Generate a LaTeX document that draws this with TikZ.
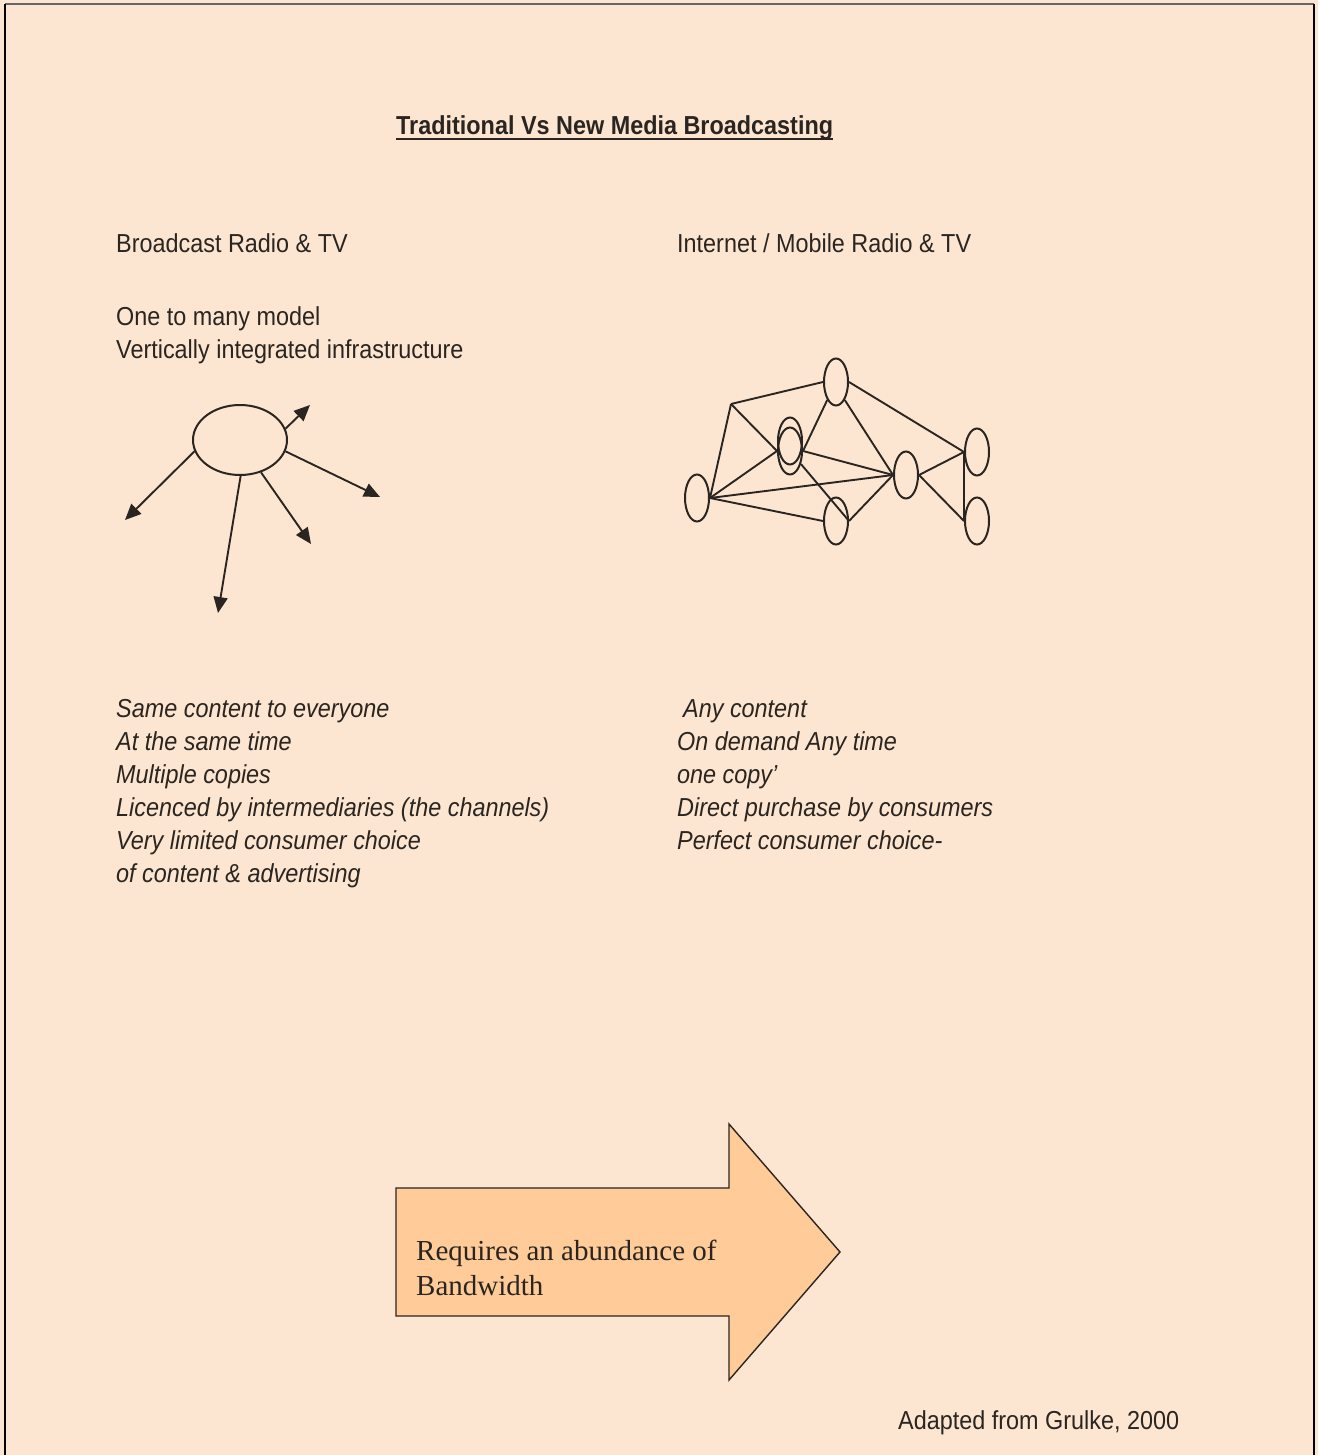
\documentclass[tikz,border=0pt]{standalone}
\usepackage{fontspec}
\setmainfont{Liberation Serif}
\newfontfamily\narrowsans[FakeStretch=0.9]{Liberation Sans}
\usetikzlibrary{arrows.meta,shapes.geometric}
\definecolor{paper}{HTML}{FDE6D1}
\definecolor{arrowfill}{HTML}{FFCB98}
\definecolor{ink}{HTML}{2A2520}

\begin{document}
\begin{tikzpicture}[
    x=1pt, y=-1pt,
    txt/.style={inner sep=0pt, anchor=base west, align=left, text=ink,
                font=\narrowsans\fontsize{26}{33}\selectfont},
    itxt/.style={txt, font=\narrowsans\itshape\fontsize{26}{33}\selectfont},
    hub/.style={draw=ink, line width=2pt, ellipse, inner sep=0pt,
                minimum width=94pt, minimum height=70pt},
    peer/.style={draw=ink, line width=2pt, ellipse, inner sep=0pt,
                 minimum width=24pt, minimum height=47pt},
    spoke/.style={draw=ink, line width=1.9pt, -{Triangle[length=16pt,width=14pt]}},
    link/.style={draw=ink, line width=1.9pt}
]
    \useasboundingbox (0,0) rectangle (1318,1455);
    \fill[paper] (0,0) rectangle (1318,1455);
    % page frame
    \draw[black!60, line width=2pt] (5,4) -- (1314,4);
    \draw[black, line width=2.5pt] (5,4) -- (5,1455);
    \draw[black, line width=2pt] (1314,4) -- (1314,1455);

    % title
    \node[txt, font=\narrowsans\bfseries\fontsize{26}{33}\selectfont] (title) at (396,135)
        {Traditional Vs New Media Broadcasting};
    \draw[ink, line width=1.8pt] ([yshift=-4pt]title.base west) -- ([yshift=-4pt]title.base east);

    % left column (multi-line nodes sit on their last line)
    \node[txt] (bcast) at (116,252) {Broadcast Radio \& TV};
    \node[txt] (onetomany) at (116,358) {One to many model\\Vertically integrated infrastructure};

    \node[hub] (tower) at (240,440) {};
    \coordinate (t1) at (310,405);
    \coordinate (t2) at (380,497);
    \coordinate (t3) at (311,544);
    \coordinate (t4) at (218,613);
    \coordinate (t5) at (125,520);
    \draw[spoke] (tower.14) -- (t1);
    \draw[spoke] (tower.-14) -- (t2);
    \draw[spoke] (tower.-57) -- (t3);
    \draw[spoke] (tower.-89) -- (t4);
    \draw[spoke] (tower.-166) -- (t5);

    \node[itxt] (oldlist) at (116,882) {Same content to everyone\\At the same time\\Multiple copies\\
        Licenced by intermediaries (the channels)\\Very limited consumer choice\\of content \& advertising};

    % right column
    \node[txt] (inet) at (677,252) {Internet / Mobile Radio \& TV};

    \node[peer] (pa) at (697,498) {};
    \node[peer] (pb1) at (790,441) {};
    \node[peer] (pb2) at (790,451) {};
    \node[peer] (pc) at (836,382) {};
    \node[peer] (pd) at (836,521) {};
    \node[peer] (pe) at (906,475) {};
    \node[peer] (pf) at (977,452) {};
    \node[peer] (pg) at (977,521) {};
    \coordinate (joint) at (731,404);

    \draw[link] (joint) -- (pc.west);
    \draw[link] (joint) -- (pa.east);
    \draw[link] (joint) -- (pb2.west);
    \draw[link] (pa.east) -- (pb2.west);
    \draw[link] (pa.east) -- (pe.west);
    \draw[link] (pa.east) -- (pd.west);
    \draw[link] (pb2.east) -- (pc.-116);
    \draw[link] (pb2.east) -- (pe.west);
    \draw[link] (pb2.-50) -- (pd.east);
    \draw[link] (pc.-64) -- (pe.west);
    \draw[link] (pc.east) -- (pf.west);
    \draw[link] (pd.east) -- (pe.west);
    \draw[link] (pe.east) -- (pf.west);
    \draw[link] (pe.east) -- (pg.west);
    \draw[link] (pf.west) -- (pg.west);

    \node[itxt] (newlist) at (677,849) {\hspace{6pt}Any content\\On demand Any time\\one copy’\\
        Direct purchase by consumers\\Perfect consumer choice-};

    % bandwidth arrow
    \draw[draw=ink, line width=1.4pt, fill=arrowfill] (396,1188) -- (729,1188) -- (729,1124)
        -- (840,1252) -- (729,1380) -- (729,1316) -- (396,1316) -- cycle;
    \node[txt, font=\fontsize{29}{35}\selectfont] (need) at (416,1295)
        {Requires an abundance of\\Bandwidth};

    \node[txt] (source) at (898,1429) {Adapted from Grulke, 2000};
\end{tikzpicture}
\end{document}
